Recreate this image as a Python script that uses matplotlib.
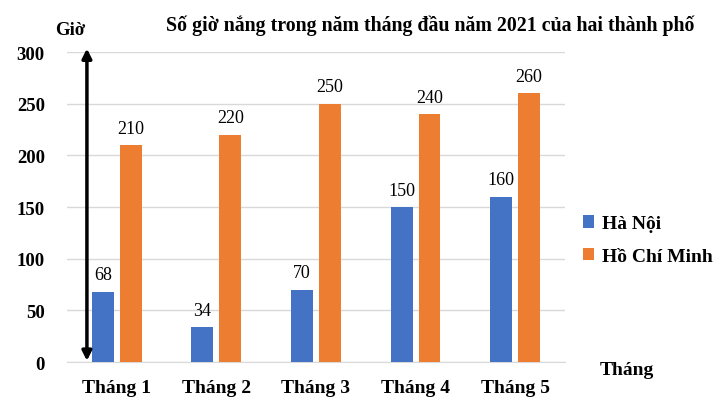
import matplotlib.pyplot as plt
import numpy as np

plt.rcParams['font.family'] = ['Liberation Serif', 'DejaVu Serif']

months = ['Tháng 1', 'Tháng 2', 'Tháng 3', 'Tháng 4', 'Tháng 5']
ha_noi = [68, 34, 70, 150, 160]
hcm = [210, 220, 250, 240, 260]
yticks = [0, 50, 100, 150, 200, 250, 300]

blue = '#4472C4'
orange = '#ED7D31'

fig = plt.figure(figsize=(7.22, 4.10), dpi=100)
ax = fig.add_axes([0.0928, 0.1146, 0.6897, 0.7561])

x = np.arange(len(months))
w = 0.22
b1 = ax.bar(x - 0.14, ha_noi, w, color=blue, label='Hà Nội', zorder=3)
b2 = ax.bar(x + 0.14, hcm, w, color=orange, label='Hồ Chí Minh', zorder=3)
ax.bar_label(b1, padding=6, fontsize=13)
ax.bar_label(b2, padding=6, fontsize=13)

ax.set_xlim(-0.5, 4.5)
ax.set_ylim(0, 300)
ax.set_yticks(yticks)
ax.set_yticklabels([str(t) for t in yticks], fontsize=13.5, fontweight='bold')
ax.set_xticks(x)
ax.set_xticklabels(months, fontsize=14, fontweight='bold')
ax.tick_params(length=0, pad=12)
ax.tick_params(axis='y', pad=16)
ax.grid(axis='y', color='#d9d9d9', linewidth=1, zorder=0)
for s in ['top', 'right', 'left']:
    ax.spines[s].set_visible(False)
ax.spines['bottom'].set_color('#d9d9d9')

# double arrow along the y axis
ax.annotate('', xy=(0.04, 1.02), xytext=(0.04, -0.005), xycoords='axes fraction',
            arrowprops=dict(arrowstyle='<|-|>', color='black', lw=2.5,
                            mutation_scale=14))

fig.text(0.097, 0.925, 'Giờ', fontsize=13.5, fontweight='bold', ha='center', va='center')
fig.text(0.596, 0.938, 'Số giờ nắng trong năm tháng đầu năm 2021 của hai thành phố',
         fontsize=14.3, fontweight='bold', ha='center', va='center')
fig.text(0.868, 0.097, 'Tháng', fontsize=14, fontweight='bold', ha='center', va='center')

leg = fig.legend(loc='upper left', bbox_to_anchor=(0.783, 0.515), frameon=False,
                 handlelength=0.6, handleheight=0.6, handletextpad=0.4,
                 labelspacing=0.8, prop={'size': 14, 'weight': 'bold'})

fig.savefig('out.png', dpi=100)
